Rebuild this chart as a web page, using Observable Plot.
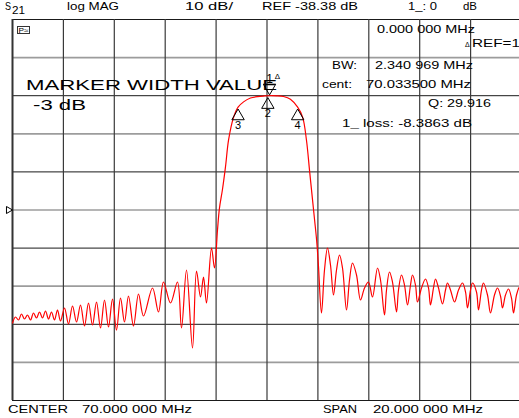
<!DOCTYPE html>
<html><head><meta charset="utf-8">
<script src="https://cdn.jsdelivr.net/npm/d3@7"></script>
<script src="https://cdn.jsdelivr.net/npm/@observablehq/plot@0.6"></script>
<style>
html,body{margin:0;padding:0;background:#fff;overflow:hidden;}
#wrap{position:relative;width:519px;height:418px;overflow:hidden;background:#fff;}
#wrap svg{position:absolute;left:0;top:0;overflow:hidden;}
</style></head><body><div id="wrap"></div>
<script>
// S21 trace: frequency (MHz) and magnitude (dB)
const freqMHz = [
  60.000,60.118,60.236,60.354,60.472,60.589,60.707,60.825,60.943,61.061,61.179,61.297,61.415,61.532,61.650,61.768,61.886,
  62.043,62.200,62.358,62.515,62.672,62.829,62.986,63.143,63.301,63.458,63.615,63.772,63.929,64.086,64.244,64.401,64.558,
  64.754,64.951,65.147,
  65.501,65.737,65.933,66.208,66.483,66.641,66.837,67.073,67.230,67.387,67.505,67.623,67.819,67.937,
  68.055,68.13,68.25,68.37,68.49,68.68,68.863,69.08,69.35,69.63,69.90,70.10,70.37,70.65,70.92,71.204,71.40,71.55,71.67,71.79,71.87,71.95,72.02,72.14,
  72.259,72.377,72.495,72.613,72.731,72.849,72.967,73.124,73.242,73.360,
  73.517,73.674,73.831,73.988,74.145,74.342,74.460,74.617,74.696,74.813,
  74.931,75.089,75.167,75.285,75.403,75.521,75.639,75.717,75.835,75.914,
  76.071,76.228,76.346,76.424,76.542,76.621,76.739,76.896,77.014,77.092,
  77.210,77.368,77.525,77.682,77.800,77.878,77.996,78.075,78.232,78.311,
  78.428,78.507,78.664,78.782,78.939,79.057,79.175,79.254,79.371,79.489,
  79.607,79.686,79.804,79.922,80.000
];
const s21dB = [
  -68.04,-66.46,-67.25,-65.68,-66.99,-65.94,-67.25,-65.41,-66.73,-65.15,-66.73,-64.89,-66.99,-65.15,-67.25,-64.63,-67.51,
  -64.10,-68.30,-63.58,-67.78,-63.31,-68.83,-62.79,-68.56,-62.53,-69.35,-62.00,-69.09,-61.74,-69.88,-61.48,-67.78,-60.95,
  -68.83,-60.43,-66.20,
  -58.85,-65.15,-57.28,-62.79,-57.28,-69.35,-54.13,-74.60,-54.39,-61.21,-55.97,-62.79,-48.35,-53.60,
  -43.6,-38.0,-33.0,-27.0,-20.0,-14.2,-11.39,-10.0,-9.0,-8.6,-8.45,-8.39,-8.42,-8.6,-9.3,-11.39,-14.0,-20.0,-27.9,-35.8,-41.0,-46.3,-52.8,-65.41,
  -54.13,-48.35,-52.82,-60.69,-54.13,-50.19,-53.60,-64.63,-56.75,-52.29,
  -55.44,-62.00,-58.85,-57.28,-61.21,-53.60,-56.75,-65.94,-59.38,-54.65,
  -57.28,-65.15,-59.38,-55.44,-58.07,-63.31,-58.07,-55.44,-58.07,-62.53,
  -58.85,-56.49,-58.85,-63.31,-58.85,-56.49,-58.85,-63.05,-59.38,-57.54,
  -59.38,-62.53,-59.38,-57.54,-59.90,-64.10,-59.38,-57.54,-59.90,-64.63,
  -59.38,-57.54,-60.69,-65.41,-60.69,-58.85,-60.95,-64.10,-60.69,-59.12,
  -61.48,-65.41,-60.69,-58.59,-59.38
];

// instrument settings
const centerMHz = 70, spanMHz = 20;
const refLevel = -38.38, dbPerDiv = 10;
const xTicks = [60,62,64,66,68,70,72,74,76,78,80];
const yTicks = [-5,-4,-3,-2,-1,0,1,2,3,4,5].map(i => refLevel + dbPerDiv * i);

// markers
const markerLabels = ["1","2","3","4"];
const markerFreq = [70.10, 70.0335, 68.863, 71.204];
const markerDb = [-8.39, -8.40, -11.39, -11.39];

const trace = freqMHz.map((f, i) => ({f, db: s21dB[i]}));
const markers = markerLabels.map((m, i) => ({m, f: markerFreq[i], db: markerDb[i]}));
const lower = markers.filter(d => d.m !== "1");
const active = markers.filter(d => d.m === "1");

const font = "Liberation Sans, Arial, sans-serif";

const chart = Plot.plot({
  width: 519, height: 418,
  marginLeft: 12, marginRight: 0, marginTop: 19, marginBottom: 18,
  style: {fontFamily: font, background: "#fff", color: "#000"},
  x: {domain: [centerMHz - spanMHz/2, centerMHz + spanMHz/2], range: [12, 521], axis: null},
  y: {domain: [refLevel - 5*dbPerDiv, refLevel + 5*dbPerDiv], range: [400, 19], axis: null},
  marks: [
    Plot.ruleY(yTicks.filter((d, i) => i % 2 === 1), {y: d => d, stroke: "#9c9c9c", strokeWidth: 1.7}),
    Plot.ruleY(yTicks.filter((d, i) => i % 2 === 0), {y: d => d, stroke: "#1a1a1a", strokeWidth: 1}),
    Plot.ruleX(xTicks.slice(1), {x: d => d, stroke: "#3a3a3a", strokeWidth: 1.2}),
    Plot.ruleX(xTicks.slice(0, 1), {x: d => d, stroke: "#333", strokeWidth: 2}),
    Plot.line(trace, {x: "f", y: "db", stroke: "#ff0000", strokeWidth: 1.2, curve: "catmull-rom"}),
    Plot.dot(lower, {x: "f", y: "db", symbol: "triangle", r: 4.6, dy: 9, stroke: "#000", strokeWidth: 1, fill: "none"}),
    Plot.text(lower, {x: "f", y: "db", text: "m", dy: 18, fontSize: 11, fill: "#000"}),
    Plot.dot(active, {x: "f", y: "db", symbol: "triangle", rotate: 180, r: 4.6, dy: -8, stroke: "#000", strokeWidth: 1, fill: "none"}),
    Plot.text(active, {x: "f", y: "db", text: "m", dy: -17, fontSize: 12, fill: "#000"}),
    Plot.text(active, {x: "f", y: "db", text: d => "\u0394", dx: 8, dy: -19, fontSize: 8, fill: "#000"}),
    Plot.dot([refLevel], {y: d => d, frameAnchor: "left", dx: -4, symbol: "triangle", rotate: 90, r: 2.6, stroke: "#000", strokeWidth: 1, fill: "none"})
  ]
});
const wrap = document.getElementById("wrap");
wrap.appendChild(chart);

// screen annotation texts (instrument display)
const labels = [
  ["S", 5, 10, 6, 11],
  ["21", 12, 14, 13, 10],
  ["log MAG", 67, 10, 52, 10.5],
  ["10 dB/", 185, 10, 48, 10.5],
  ["REF -38.38 dB", 262, 10, 96, 10.5],
  ["1_: 0", 408, 10, 29, 10.5],
  ["dB", 463, 10, 14, 10.5],
  ["0.000 000 MHz", 377, 33, 98, 10.5],
  ["REF=1", 472, 47, 48, 10.5],
  ["BW:", 332, 69, 25, 10.5],
  ["2.340 969 MHz", 375, 69, 98, 10.5],
  ["cent:", 322, 88, 30, 10.5],
  ["70.033500 MHz", 366, 88, 105, 10.5],
  ["Q: 29.916", 428, 107, 63, 10.5],
  ["1_ loss: -8.3863 dB", 342, 127, 130, 10.5],
  ["MARKER WIDTH VALUE", 26, 90, 251, 15.5],
  ["-3 dB", 33, 110, 53, 14],
  ["CENTER", 8, 413, 60, 10.5],
  ["70.000 000 MHz", 82, 413, 110, 10.5],
  ["SPAN", 323, 413, 34, 10.5],
  ["20.000 000 MHz", 373, 413, 110, 10.5]
];
const ov = d3.create("svg").attr("width", 519).attr("height", 418).attr("viewBox", "0 0 519 418");
ov.selectAll("text").data(labels).join("text")
  .attr("x", d => d[1]).attr("y", d => d[2])
  .attr("textLength", d => d[3]).attr("lengthAdjust", "spacingAndGlyphs")
  .attr("font-size", d => d[4]).attr("font-family", font).attr("fill", "#000")
  .text(d => d[0]);
ov.append("text").attr("x", 465).attr("y", 47).attr("font-size", 7).attr("font-family", font).text("\u0394");
// small display-mode icon
ov.append("rect").attr("x", 17.5).attr("y", 26.5).attr("width", 12).attr("height", 7).attr("fill", "none").attr("stroke", "#333").attr("stroke-width", 1);
ov.append("text").attr("x", 18.5).attr("y", 33).attr("font-size", 7).attr("font-family", font).attr("textLength", 10).attr("lengthAdjust", "spacingAndGlyphs").text("P\u2248");
wrap.appendChild(ov.node());
</script>
</body></html>
